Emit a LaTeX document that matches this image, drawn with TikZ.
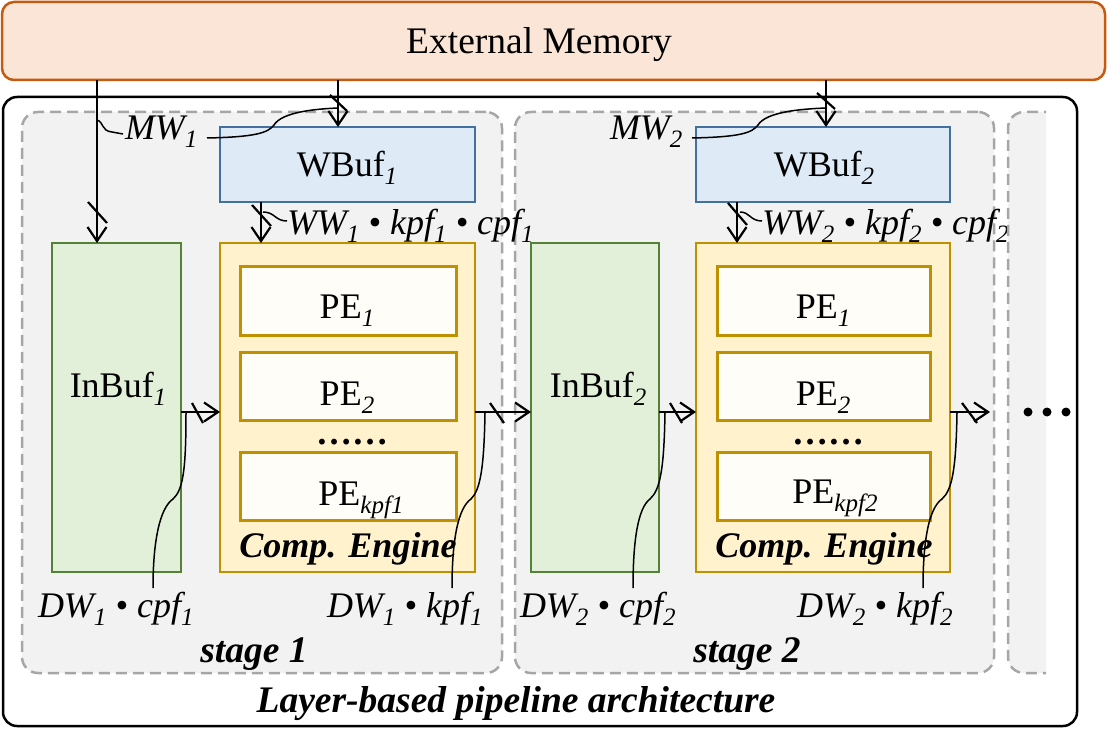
\documentclass[tikz,border=0pt]{standalone}
\usepackage{fontspec}
\setmainfont{Liberation Serif}
\usetikzlibrary{arrows.meta}
\definecolor{extfill}{HTML}{FBE5D6}
\definecolor{extdraw}{HTML}{C55A11}
\definecolor{stagefill}{HTML}{F2F2F2}
\definecolor{stagedraw}{HTML}{A6A6A6}
\definecolor{wfill}{HTML}{DEEBF7}
\definecolor{wdraw}{HTML}{41719C}
\definecolor{ifill}{HTML}{E2F0D9}
\definecolor{idraw}{HTML}{538135}
\definecolor{cfill}{HTML}{FFF2CC}
\definecolor{cdraw}{HTML}{BF9000}
\definecolor{pfill}{HTML}{FFFDF8}
\newcommand{\fs}{\fontsize{36}{40}\selectfont}
\newcommand{\fb}{\fontsize{37.5}{42}\selectfont}
\newcommand{\sbs}[1]{\raisebox{-8pt}{\fontsize{25}{25}\selectfont\itshape #1}}
\begin{document}
\begin{tikzpicture}[x=1pt,y=-1pt,
  box/.style={inner sep=0pt, outer sep=0pt, line width=2.5pt},
  extbox/.style={box, draw=extdraw, fill=extfill, rounded corners=12pt},
  outerbox/.style={box, draw=black, rounded corners=14pt},
  stagebox/.style={line width=2.5pt, draw=stagedraw, fill=stagefill, rounded corners=16pt, dash pattern=on 11pt off 6pt},
  wbox/.style={box, draw=wdraw, fill=wfill},
  ibox/.style={box, draw=idraw, fill=ifill},
  cbox/.style={box, draw=cdraw, fill=cfill},
  pbox/.style={box, draw=cdraw, fill=pfill, line width=3pt},
  txt/.style={inner sep=0pt, outer sep=0pt, anchor=base, font=\fs},
  ltxt/.style={inner sep=0pt, outer sep=0pt, anchor=base west, font=\fs\itshape},
  btxt/.style={inner sep=0pt, outer sep=0pt, anchor=base, font=\fs\bfseries\itshape},
  arr/.style={line width=2.2pt, -{Straight Barb[length=14pt,width=19pt,line width=2.2pt]}},
  slash/.style={line width=2.2pt},
  callout/.style={line width=1.5pt}
]
\useasboundingbox (0,0) rectangle (1111,746);

% outer box and stages
\node[outerbox, minimum width=1074pt, minimum height=629pt] (outer) at (540,411.5) {};
\node[stagebox, minimum width=480pt, minimum height=561pt] (stage1) at (262,392.5) {};
\node[stagebox, minimum width=479pt, minimum height=561pt] (stage2) at (754.5,392.5) {};

% external memory
\node[extbox, minimum width=1103pt, minimum height=78pt] (ext) at (553.5,41) {};
\node[txt, font=\fb] (extlbl) at (539,54) {External Memory};

% stage 1 boxes
\node[wbox, minimum width=255pt, minimum height=75pt] (wbuf1) at (347.5,164.5) {};
\node[txt] (wbuf1t) at (347,177) {WBuf\sbs{1}};
\node[ibox, minimum width=129pt, minimum height=329pt] (inbuf1) at (116.5,407.5) {};
\node[txt] (inbuf1t) at (118,397) {InBuf\sbs{1}};
\node[cbox, minimum width=255pt, minimum height=329pt] (ce1) at (347.5,407.5) {};
\node[pbox, minimum width=216pt, minimum height=69pt] (pe11) at (348,300.5) {};
\node[txt] (pe11t) at (347,318) {PE\sbs{1}};
\node[pbox, minimum width=216pt, minimum height=68pt] (pe12) at (348,386) {};
\node[txt] (pe12t) at (347,405) {PE\sbs{2}};
\node[txt, font=\fs\bfseries, text height=6pt, text depth=0pt] (dots1) at (352,444) {……};
\node[pbox, minimum width=216pt, minimum height=68pt] (pe13) at (348,486) {};
\node[txt] (pe13t) at (361,505) {PE\sbs{kpf1}};
\node[btxt] (ce1t) at (348,557) {Comp. Engine};

% stage 2 boxes
\node[wbox, minimum width=254pt, minimum height=75pt] (wbuf2) at (823,164.5) {};
\node[txt] (wbuf2t) at (824,177) {WBuf\sbs{2}};
\node[ibox, minimum width=128pt, minimum height=329pt] (inbuf2) at (595,407.5) {};
\node[txt] (inbuf2t) at (598,397) {InBuf\sbs{2}};
\node[cbox, minimum width=254pt, minimum height=329pt] (ce2) at (823,407.5) {};
\node[pbox, minimum width=213pt, minimum height=69pt] (pe21) at (823.5,300.5) {};
\node[txt] (pe21t) at (823,318) {PE\sbs{1}};
\node[pbox, minimum width=213pt, minimum height=68pt] (pe22) at (823.5,386) {};
\node[txt] (pe22t) at (823,405) {PE\sbs{2}};
\node[txt, font=\fs\bfseries, text height=6pt, text depth=0pt] (dots2) at (828,444) {……};
\node[pbox, minimum width=213pt, minimum height=68pt] (pe23) at (823.5,486) {};
\node[txt] (pe23t) at (835,503) {PE\sbs{kpf2}};
\node[btxt] (ce2t) at (824,557) {Comp. Engine};

% helper coordinates
\coordinate (xin1) at (97,0);
\coordinate (xw1) at (338,0);
\coordinate (xww1) at (261,0);
\coordinate (xw2) at (826,0);
\coordinate (xww2) at (737,0);
\coordinate (nextin) at (990,412);

% arrows
\draw[arr] (ext.south -| xin1) -- (inbuf1.north -| xin1);
\draw[slash] (88,202) -- (107,223);
\draw[arr] (ext.south -| xw1) -- (wbuf1.north -| xw1);
\draw[slash] (330,95) -- (347,111);
\draw[arr] (wbuf1.south -| xww1) -- (ce1.north -| xww1);
\draw[slash] (252,205) -- (271,226);
\draw[arr] ([yshift=-4.5pt]inbuf1.east) -- ([yshift=-4.5pt]ce1.west);
\draw[slash] (192,403) -- (203,423);
\draw[arr] ([yshift=-4.5pt]ce1.east) -- ([yshift=-4.5pt]inbuf2.west);
\draw[slash] (490,403) -- (504,423);

\draw[arr] (ext.south -| xw2) -- (wbuf2.north -| xw2);
\draw[slash] (817,93) -- (835,109);
\draw[arr] (wbuf2.south -| xww2) -- (ce2.north -| xww2);
\draw[slash] (728,203) -- (747,225);
\draw[arr] ([yshift=-4.5pt]inbuf2.east) -- ([yshift=-4.5pt]ce2.west);
\draw[slash] (670,403) -- (682,423);
\draw[arr] ([yshift=-4.5pt]ce2.east) -- (nextin);
\draw[slash] (962,403) -- (977,423);

% labels
\node[ltxt] (mw1) at (125,140) {MW\sbs{1}};
\node[ltxt] (ww1) at (287,235) {WW\sbs{1} • kpf\sbs{1} • cpf\sbs{1}};
\node[ltxt] (dw1c) at (38,617) {DW\sbs{1} • cpf\sbs{1}};
\node[ltxt] (dw1k) at (327,617) {DW\sbs{1} • kpf\sbs{1}};
\node[ltxt] (mw2) at (610,140) {MW\sbs{2}};
\node[ltxt] (ww2) at (762,235) {WW\sbs{2} • kpf\sbs{2} • cpf\sbs{2}};
\node[ltxt] (dw2c) at (520,617) {DW\sbs{2} • cpf\sbs{2}};
\node[ltxt] (dw2k) at (797,617) {DW\sbs{2} • kpf\sbs{2}};
\node[btxt, font=\fb\bfseries\itshape] (st1) at (254,662) {stage 1};
\node[btxt, font=\fb\bfseries\itshape] (st2) at (747,662) {stage 2};
\node[btxt, font=\fb\bfseries\itshape] (layer) at (516,712) {Layer-based pipeline architecture};

% callout curves
\draw[callout] (97,120) .. controls (104,122) and (101,131) .. (112,132) -- (123,134);
\draw[callout] (207,138) .. controls (255,137) and (268,133) .. (274,125) .. controls (282,112) and (315,109) .. (338,108);
\draw[callout] (692,138) .. controls (740,137) and (752,133) .. (758,125) .. controls (766,112) and (800,109) .. (826,108);
\draw[callout] (263,212) .. controls (275,212) and (275,221) .. (287,221);
\draw[callout] (740,212) .. controls (750,212) and (750,221) .. (762,221);
\draw[callout] (186,413) .. controls (186,470) and (183,490) .. (173,499) .. controls (160,508) and (153,540) .. (153,588);
\draw[callout] (485,413) .. controls (484,470) and (480,490) .. (471,499) .. controls (458,508) and (452,540) .. (452,588);
\draw[callout] (665,413) .. controls (664,470) and (660,490) .. (650,499) .. controls (638,508) and (633,540) .. (633,588);
\draw[callout] (957,413) .. controls (956,470) and (952,490) .. (942,499) .. controls (929,508) and (923,540) .. (923,588);

% partial third stage
\begin{scope}
\clip (1000,100) rectangle (1046,690);
\node[stagebox, minimum width=80pt, minimum height=561pt] (stage3) at (1048,392.5) {};
\end{scope}

% continuation dots
\fill (1028,412) circle (4.5pt);
\fill (1047,412) circle (4.5pt);
\fill (1066,412) circle (4.5pt);
\end{tikzpicture}
\end{document}
